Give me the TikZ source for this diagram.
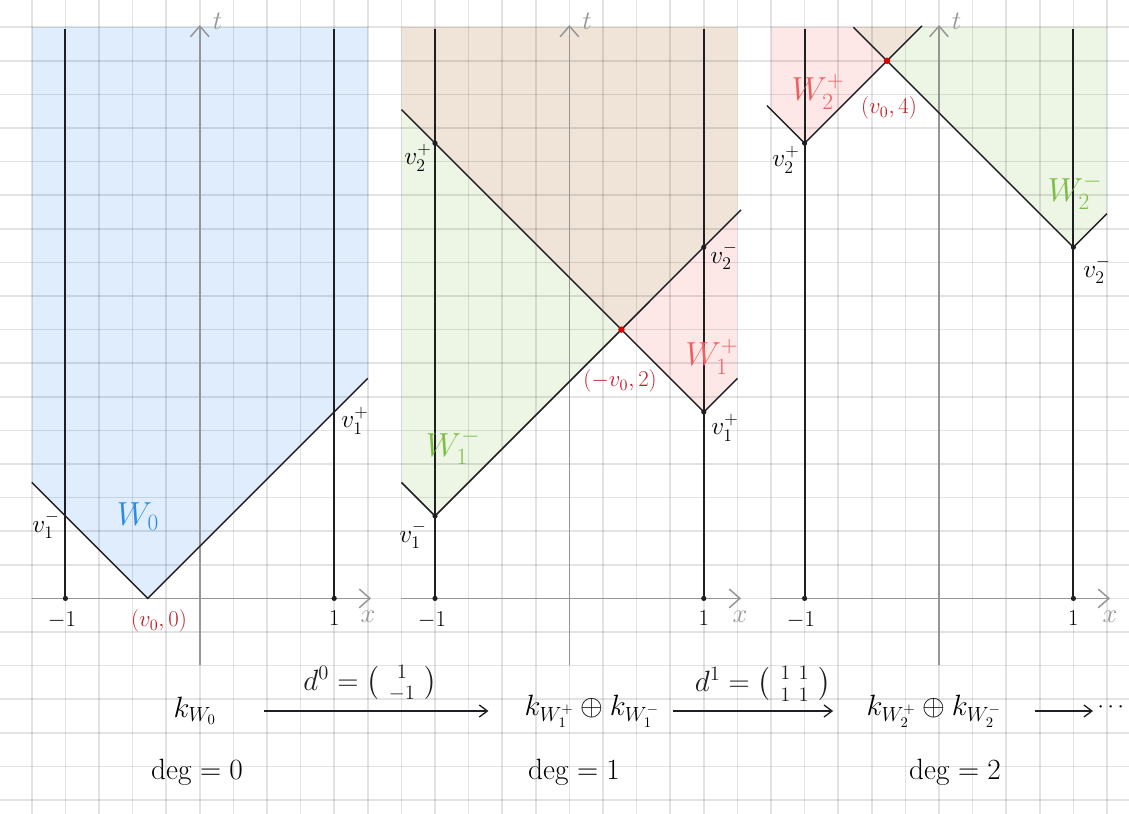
\RequirePackage{fix-cm}
\documentclass[tikz,border=0pt]{standalone}
\usepackage{amsmath}
\usetikzlibrary{arrows.meta}

\definecolor{wzeroblue}{RGB}{224,237,252}
\definecolor{overlapbrown}{RGB}{240,228,216}
\definecolor{minusgreen}{RGB}{237,245,229}
\definecolor{pluspink}{RGB}{253,231,231}
\definecolor{inkblue}{RGB}{40,140,225}
\definecolor{inkgreen}{RGB}{125,190,70}
\definecolor{inksalmon}{RGB}{236,95,95}
\definecolor{inkred}{RGB}{195,30,40}
\definecolor{axisgray}{RGB}{150,150,150}
\definecolor{inkblack}{RGB}{30,30,35}

\tikzset{every picture/.style={line width=0.75pt}}
\tikzset{
  gridline/.style={black, opacity=0.11, line width=1.1pt},
  axisline/.style={axisgray, line width=1.1pt, -{Straight Barb[length=8pt,width=14pt]}},
  wallline/.style={inkblack, line width=1.5pt},
  coneline/.style={inkblack, line width=1.1pt},
  vdot/.style={fill=inkblack},
  rdot/.style={fill=red!85!black},
  chainarrow/.style={inkblack, line width=1pt, -{Straight Barb[length=6pt,width=9pt]}},
  vlabel/.style={inner sep=0.75pt, font=\fontsize{19}{22}\selectfont},
  wlabel/.style={inner sep=0.75pt, font=\fontsize{25}{28}\selectfont},
  ptlabel/.style={inner sep=0.75pt, inkred, font=\fontsize{17}{20}\selectfont},
  ticklabel/.style={inner sep=0.75pt, font=\fontsize{17}{20}\selectfont},
  axislabel/.style={inner sep=0.75pt, axisgray, font=\fontsize{20}{24}\selectfont},
  chainlabel/.style={inner sep=0.75pt, font=\fontsize{22}{26}\selectfont},
}

\begin{document}
\begin{tikzpicture}[x=0.75pt,y=0.75pt,yscale=-1,xscale=1]
\path[use as bounding box] (0,0) rectangle (1129,814);

%Shape: Polygon W_0
\fill[wzeroblue] (31.8,27.2) -- (367.8,27.2) -- (367.8,378.4) -- (147.8,598.4) -- (31.8,482.4) -- cycle;
%Shape: Polygon overlap, deg 1
\fill[overlapbrown] (401.4,27.2) -- (737.4,27.2) -- (737.4,213.6) -- (621.4,329.6) -- (401.4,109.6) -- cycle;
%Shape: Polygon W_1^-
\fill[minusgreen] (401.4,109.6) -- (621.4,329.6) -- (435,516) -- (401.4,482.4) -- cycle;
%Shape: Polygon W_1^+
\fill[pluspink] (621.4,329.6) -- (737.4,213.6) -- (737.4,378.4) -- (703.8,412) -- cycle;
%Shape: Polygon W_2^+
\fill[pluspink] (771,27.2) -- (853.4,27.2) -- (887,60.8) -- (804.6,143.2) -- (771,109.6) -- cycle;
%Shape: Polygon overlap, deg 2
\fill[overlapbrown] (853.4,27.2) -- (920.6,27.2) -- (887,60.8) -- cycle;
%Shape: Polygon W_2^-
\fill[minusgreen] (920.6,27.2) -- (1107,27.2) -- (1107,213.6) -- (1073.4,247.2) -- (887,60.8) -- cycle;

%Grid
\foreach \i in {0,...,32} \draw[gridline] ({31.8+33.6*\i},0) -- ({31.8+33.6*\i},814);
\foreach \j in {0,...,23} \draw[gridline] (0,{27.2+33.6*\j}) -- (1129,{27.2+33.6*\j});

%Straight Lines (axes)
\draw[axisline] (31.8,598.4) -- (371,598.4);
\draw[axisline] (199.8,665) -- (199.8,25);
\draw[axisline] (401.4,598.4) -- (741,598.4);
\draw[axisline] (569.4,665) -- (569.4,25);
\draw[axisline] (771,598.4) -- (1110,598.4);
\draw[axisline] (939,665) -- (939,25);

%Straight Lines (x = -1, x = 1)
\draw[wallline] (65.4,28.5) -- (65.4,598.4);
\draw[wallline] (334.2,28.5) -- (334.2,598.4);
\draw[wallline] (435,28.5) -- (435,598.4);
\draw[wallline] (703.8,28.5) -- (703.8,598.4);
\draw[wallline] (804.6,28.5) -- (804.6,598.4);
\draw[wallline] (1073.4,28.5) -- (1073.4,598.4);

%Straight Lines (cones)
\draw[coneline] (31.8,482.4) -- (147.8,598.4) -- (367.8,378.4);
\draw[coneline] (401.4,109.6) -- (621.4,329.6) -- (703.8,412) -- (737.4,378.4);
\draw[coneline] (401.4,482.4) -- (435,516) -- (621.4,329.6) -- (741,209.8);
\draw[coneline] (767,105.6) -- (804.6,143.2) -- (887,60.8) -- (922,25.8);
\draw[coneline] (853.4,27.2) -- (887,60.8) -- (1073.4,247.2) -- (1107,213.6);

%Dots
\fill[vdot] (65.4,598.4) circle [radius=2.6];
\fill[vdot] (334.2,598.4) circle [radius=2.6];
\fill[vdot] (435,598.4) circle [radius=2.6];
\fill[vdot] (703.8,598.4) circle [radius=2.6];
\fill[vdot] (804.6,598.4) circle [radius=2.6];
\fill[vdot] (1073.4,598.4) circle [radius=2.6];
\fill[vdot] (435,516) circle [radius=2.6];
\fill[vdot] (703.8,412) circle [radius=2.6];
\fill[vdot] (435,143.2) circle [radius=2.6];
\fill[vdot] (703.8,247.2) circle [radius=2.6];
\fill[vdot] (804.6,143.2) circle [radius=2.6];
\fill[vdot] (1073.4,247.2) circle [radius=2.6];
\fill[rdot] (621.4,329.6) circle [radius=3.2];
\fill[rdot] (887,60.8) circle [radius=3.2];

% Text Node (axes)
\node[axislabel] (ta) at (217.5,21) {$t$};
\node[axislabel] (tb) at (587.1,21) {$t$};
\node[axislabel] (tc) at (956.7,21) {$t$};
\node[axislabel] (xa) at (368,617) {$x$};
\node[axislabel] (xb) at (740,617) {$x$};
\node[axislabel] (xc) at (1110,617) {$x$};
\node[ticklabel] (ma) at (62,620) {$-1$};
\node[ticklabel] (pa) at (334.2,618) {$1$};
\node[ticklabel] (mb) at (432,620) {$-1$};
\node[ticklabel] (pb) at (703.8,618) {$1$};
\node[ticklabel] (mc) at (801,620) {$-1$};
\node[ticklabel] (pc) at (1073.4,618) {$1$};

% Text Node (deg 0)
\node[vlabel] (vam) at (46,525) {$v_1^-$};
\node[vlabel] (vap) at (355,421) {$v_1^+$};
\node[wlabel, inkblue] (wzero) at (138,517) {$W_0$};
\node[ptlabel] (pzero) at (159,621) {$(v_0,0)$};

% Text Node (deg 1)
\node[vlabel] (vbtp) at (418,158) {$v_2^+$};
\node[vlabel] (vbtm) at (724,256) {$v_2^-$};
\node[wlabel, inksalmon] (wonep) at (712,357) {$W_1^+$};
\node[ptlabel] (pone) at (620,381) {$(-v_0,2)$};
\node[vlabel] (vbp) at (725,428) {$v_1^+$};
\node[wlabel, inkgreen] (wonem) at (453,447) {$W_1^-$};
\node[vlabel] (vbm) at (413,535) {$v_1^-$};

% Text Node (deg 2)
\node[wlabel, inksalmon] (wtwop) at (818,92) {$W_2^+$};
\node[ptlabel] (ptwo) at (889,108) {$(v_0,4)$};
\node[vlabel] (vcp) at (786,160) {$v_2^+$};
\node[wlabel, inkgreen] (wtwom) at (1075,192) {$W_2^-$};
\node[vlabel] (vcm) at (1097,270) {$v_2^-$};

% Text Node (complex)
\node[chainlabel] (kw0) at (195,711) {$k_{W_0}$};
\node[chainlabel] (deg0) at (197,772) {$\deg=0$};
\node[chainlabel] (kw1) at (592,711) {$k_{W_1^+}\oplus k_{W_1^-}$};
\node[chainlabel] (deg1) at (574,772) {$\deg=1$};
\node[chainlabel] (kw2) at (934,711) {$k_{W_2^+}\oplus k_{W_2^-}$};
\node[chainlabel] (deg2) at (955,772) {$\deg=2$};
\node[chainlabel, anchor=west, inner sep=0pt, font=\fontsize{17}{20}\selectfont] (etc) at (1097,711) {\raisebox{5pt}{$\cdots$}};

%Straight Lines (differentials)
\draw[chainarrow, shorten <=35pt, shorten >=26pt] (kw0.east) -- (kw1.west)
  node[midway, above=6pt, chainlabel] (dzero) {$d^0=\left(\,\begin{smallmatrix}1\\[4pt]-1\end{smallmatrix}\,\right)$};
\draw[chainarrow, shorten <=9pt, shorten >=24pt] (kw1.east) -- (kw2.west)
  node[midway, above=6pt, chainlabel] (done) {$d^1=\left(\,\begin{smallmatrix}1&1\\[4pt]1&1\end{smallmatrix}\,\right)$};
\draw[chainarrow, shorten <=24pt, shorten >=3pt] (kw2.east) -- (etc.west);

\end{tikzpicture}
\end{document}
